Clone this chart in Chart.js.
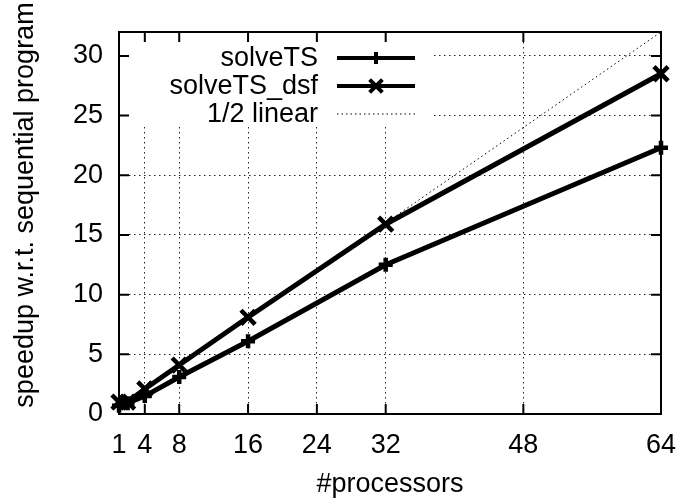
<!DOCTYPE html>
<html>
<head>
<meta charset="utf-8">
<script src="https://cdn.jsdelivr.net/npm/chart.js@4/dist/chart.umd.min.js"></script>
<style>
  html, body { margin: 0; padding: 0; background: #fff; }
  #speedup { display: block; }
</style>
</head>
<body>
<canvas id="speedup" width="682" height="498"></canvas>
<script>
// number of processors and measured speedups
var procs = [1, 2, 4, 8, 16, 32, 64];
var solveTS = [0.7, 0.9, 1.5, 3.1, 6.1, 12.5, 22.3];
var solveTSdsf = [1.0, 1.0, 2.1, 4.1, 8.1, 15.9, 28.5];
// reference line: half of linear speedup
var halfLinearX = [1, 64];
var halfLinearY = [0.5, 32];

var xTicks = [1, 4, 8, 16, 24, 32, 48, 64];
var yTicks = [0, 5, 10, 15, 20, 25, 30];

var yLabel = 'speedup w.r.t. sequential program';

var FONT = 'Liberation Sans, Arial, sans-serif';
var FSIZE = 27;

function pts(xs, ys) {
    return xs.map(function (x, i) { return { x: x, y: ys[i] }; });
}

// gnuplot style key: text right aligned, sample line after it, opaque box
var keyPlugin = {
    id: 'key',
    beforeDatasetsDraw: function (chart) {
        var c = chart.ctx, a = chart.chartArea;
        c.save();
        c.fillStyle = '#fff';
        c.fillRect(a.left + 1, a.top + 1, 432 - a.left, 126 - a.top);
        c.restore();
    },
    afterDatasetsDraw: function (chart) {
        var c = chart.ctx;
        var rows = [58, 86, 114];
        c.save();
        c.font = FSIZE + 'px ' + FONT;
        c.fillStyle = '#000';
        c.textAlign = 'right';
        c.textBaseline = 'middle';
        chart.data.datasets.forEach(function (ds, i) {
            var y = rows[i];
            c.fillText(ds.label, 318, y + 1);
            c.beginPath();
            c.strokeStyle = ds.borderColor;
            c.lineWidth = ds.borderWidth === 1 ? 1 : 4;
            c.setLineDash(ds.borderDash || []);
            c.moveTo(337, y);
            c.lineTo(415, y);
            c.stroke();
            c.setLineDash([]);
            if (ds.pointStyle && ds.pointRadius > 0) {
                Chart.helpers.drawPoint(c, {
                    pointStyle: ds.pointStyle,
                    radius: ds.pointRadius - 1,
                    borderWidth: ds.pointBorderWidth
                }, 376, y);
            }
        });
        c.restore();
    }
};

// border with inward tick marks on all four sides, plus the y label
var framePlugin = {
    id: 'frame',
    afterDatasetsDraw: function (chart) {
        var c = chart.ctx, a = chart.chartArea;
        var xs = chart.scales.x, ys = chart.scales.y;
        var len = 10;
        c.save();
        c.strokeStyle = '#000';
        c.lineWidth = 2;
        c.beginPath();
        xTicks.forEach(function (t) {
            var px = xs.getPixelForValue(t);
            c.moveTo(px, a.bottom); c.lineTo(px, a.bottom - len);
            c.moveTo(px, a.top); c.lineTo(px, a.top + len);
        });
        yTicks.forEach(function (t) {
            var py = ys.getPixelForValue(t);
            c.moveTo(a.left, py); c.lineTo(a.left + len, py);
            c.moveTo(a.right, py); c.lineTo(a.right - len, py);
        });
        c.stroke();
        c.strokeRect(a.left, a.top, a.right - a.left, a.bottom - a.top);

        // gnuplot puts the ylabel a bit above the plot centre
        c.translate(26, 205);
        c.rotate(-Math.PI / 2);
        c.font = FSIZE + 'px ' + FONT;
        c.fillStyle = '#000';
        c.textAlign = 'center';
        c.textBaseline = 'middle';
        c.fillText(yLabel, 0, 0);
        c.restore();
    }
};

var ctx = document.getElementById('speedup').getContext('2d');
var speedupChart = new Chart(ctx, {
    type: 'scatter',
    data: {
        datasets: [{
            label: 'solveTS',
            data: pts(procs, solveTS),
            showLine: true,
            borderColor: '#000',
            backgroundColor: '#000',
            borderWidth: 5,
            pointStyle: 'cross',
            pointRadius: 7,
            pointBorderWidth: 4.5,
            clip: false
        }, {
            label: 'solveTS_dsf',
            data: pts(procs, solveTSdsf),
            showLine: true,
            borderColor: '#000',
            backgroundColor: '#000',
            borderWidth: 5,
            pointStyle: 'crossRot',
            pointRadius: 10,
            pointBorderWidth: 4.5,
            clip: false
        }, {
            label: '1/2 linear',
            data: pts(halfLinearX, halfLinearY),
            showLine: true,
            borderColor: '#000',
            borderWidth: 1,
            borderDash: [1.5, 3],
            pointRadius: 0
        }]
    },
    options: {
        responsive: false,
        animation: false,
        events: [],
        layout: { padding: { left: 0, top: 32, right: 21, bottom: 0 } },
        plugins: {
            legend: { display: false },
            tooltip: { enabled: false }
        },
        scales: {
            x: {
                type: 'linear',
                min: 1,
                max: 64,
                afterBuildTicks: function (s) {
                    s.ticks = xTicks.map(function (v) { return { value: v }; });
                },
                afterFit: function (s) {
                    s.height = 84;
                    s.paddingLeft = 0;
                    s.paddingRight = 0;
                },
                grid: {
                    drawTicks: false,
                    lineWidth: 1,
                    color: function (c) {
                        var v = c.tick ? c.tick.value : null;
                        return (v === 1 || v === 64) ? 'rgba(0,0,0,0)' : '#222';
                    }
                },
                border: { display: false, dash: [1.5, 3.5] },
                ticks: {
                    color: '#000',
                    padding: 15,
                    maxRotation: 0,
                    font: { family: FONT, size: FSIZE }
                },
                title: {
                    display: true,
                    text: '#processors',
                    color: '#000',
                    padding: { top: 0, bottom: -3 },
                    font: { family: FONT, size: FSIZE }
                }
            },
            y: {
                min: 0,
                max: 32,
                afterBuildTicks: function (s) {
                    s.ticks = yTicks.map(function (v) { return { value: v }; });
                },
                afterFit: function (s) {
                    s.width = 119;
                    s.paddingTop = 0;
                    s.paddingBottom = 0;
                },
                grid: {
                    drawTicks: false,
                    lineWidth: 1,
                    color: function (c) {
                        var v = c.tick ? c.tick.value : null;
                        return v === 0 ? 'rgba(0,0,0,0)' : '#222';
                    }
                },
                border: { display: false, dash: [1.5, 3.5] },
                ticks: {
                    color: '#000',
                    padding: 16,
                    font: { family: FONT, size: FSIZE }
                }
            }
        }
    },
    plugins: [keyPlugin, framePlugin]
});
</script>
</body>
</html>
